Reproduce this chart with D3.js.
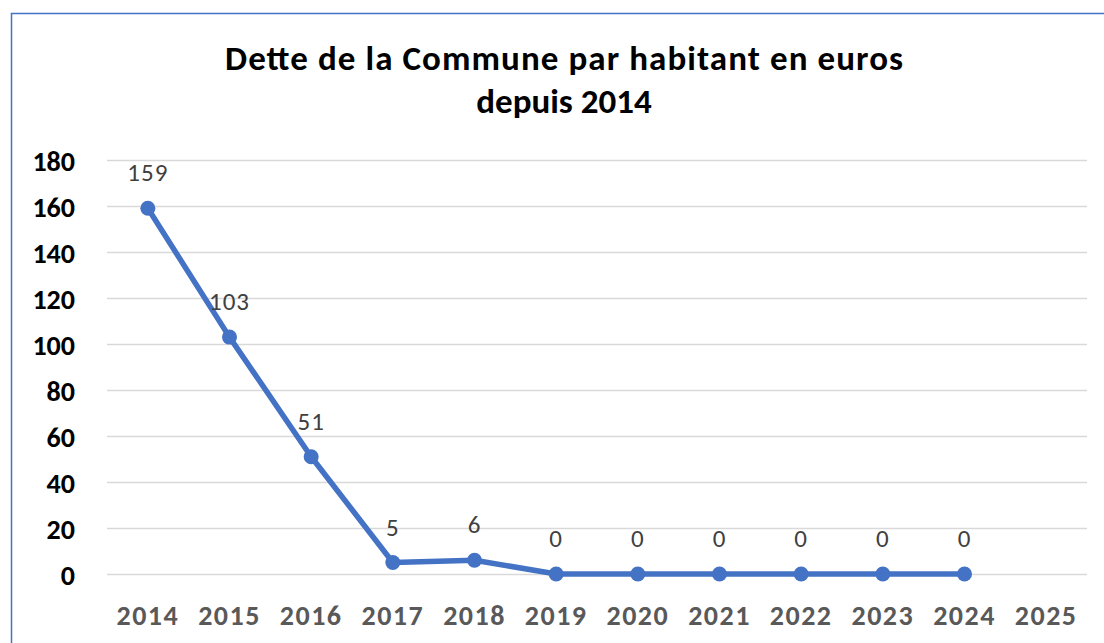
<!DOCTYPE html>
<html>
<head>
<meta charset="utf-8">
<script src="https://cdn.jsdelivr.net/npm/d3@7"></script>
<style>
  body { margin: 0; background: #fff; }
  text { font-family: Carlito, Lato, "Open Sans", sans-serif; }
</style>
</head>
<body>
<div id="chart"></div>
<script>
var years = ["2014","2015","2016","2017","2018","2019","2020","2021","2022","2023","2024","2025"];
var dette = [159, 103, 51, 5, 6, 0, 0, 0, 0, 0, 0];
var yTicks = [0, 20, 40, 60, 80, 100, 120, 140, 160, 180];
var titleLines = ["Dette de la Commune par habitant en euros", "depuis 2014"];

var W = 1104, H = 643;
var margin = {top: 160, right: 17, bottom: 69, left: 107},
    width = W - margin.left - margin.right,
    height = H - margin.top - margin.bottom;

var svg = d3.select("#chart").append("svg")
    .attr("width", W)
    .attr("height", H);

// chart frame (only left and top edges visible)
svg.append("rect")
    .attr("x", 11.5).attr("y", 13.5)
    .attr("width", W).attr("height", H)
    .attr("fill", "none")
    .attr("stroke", "#4472C4")
    .attr("stroke-width", 1.5);

svg.append("g").selectAll("text")
    .data(titleLines)
  .enter().append("text")
    .attr("x", 564)
    .attr("y", function(d, i) {return 70 + i * 43})
    .attr("text-anchor", "middle")
    .attr("font-size", 35)
    .attr("font-weight", "bold")
    .attr("fill", "#000")
    .attr("textLength", function(d, i) {return i == 0 ? 678 : null})
    .text(function(d) {return d});

var g = svg.append("g")
    .attr("transform", "translate(" + margin.left + "," + margin.top + ")");

var x = d3.scaleBand()
    .domain(years)
    .range([0, width]);

var y = d3.scaleLinear()
    .domain([0, 180])
    .range([height, 0]);

// gridlines
g.append("g").selectAll("line")
    .data(yTicks)
  .enter().append("line")
    .attr("x1", 0).attr("x2", width)
    .attr("y1", function(d) {return Math.round(y(d)) + 0.5})
    .attr("y2", function(d) {return Math.round(y(d)) + 0.5})
    .attr("stroke", "#d9d9d9")
    .attr("stroke-width", 1.5);

var yAxis = g.append("g")
    .call(d3.axisLeft(y).tickValues(yTicks).tickSize(0).tickPadding(32));
yAxis.select(".domain").remove();
yAxis.selectAll("text")
    .attr("font-size", 28)
    .attr("font-weight", "bold")
    .attr("fill", "#000")
    .attr("dy", "0.36em");

var xAxis = g.append("g")
    .attr("transform", "translate(0," + height + ")")
    .call(d3.axisBottom(x).tickSize(0));
xAxis.select(".domain").remove();
xAxis.selectAll("text")
    .attr("y", 41)
    .attr("dy", "0.36em")
    .attr("font-size", 28)
    .attr("font-weight", "bold")
    .attr("letter-spacing", 1.5)
    .attr("fill", "#595959");

var pts = dette.map(function(v, i) {return {year: years[i], value: v}});
var cx = function(d) {return x(d.year) + x.bandwidth() / 2};

g.append("path")
    .datum(pts)
    .attr("fill", "none")
    .attr("stroke", "#4472C4")
    .attr("stroke-width", 5.5)
    .attr("stroke-linejoin", "round")
    .attr("d", d3.line().x(cx).y(function(d) {return y(d.value)}));

g.append("g").selectAll("circle")
    .data(pts)
  .enter().append("circle")
    .attr("cx", cx)
    .attr("cy", function(d) {return y(d.value)})
    .attr("r", 7.5)
    .attr("fill", "#4472C4");

g.append("g").selectAll("text")
    .data(pts)
  .enter().append("text")
    .attr("x", cx)
    .attr("y", function(d) {return y(d.value) - 36})
    .attr("dy", "0.36em")
    .attr("text-anchor", "middle")
    .attr("font-size", 25)
    .attr("letter-spacing", 1)
    .attr("fill", "#404040")
    .text(function(d) {return d.value});
</script>
</body>
</html>
